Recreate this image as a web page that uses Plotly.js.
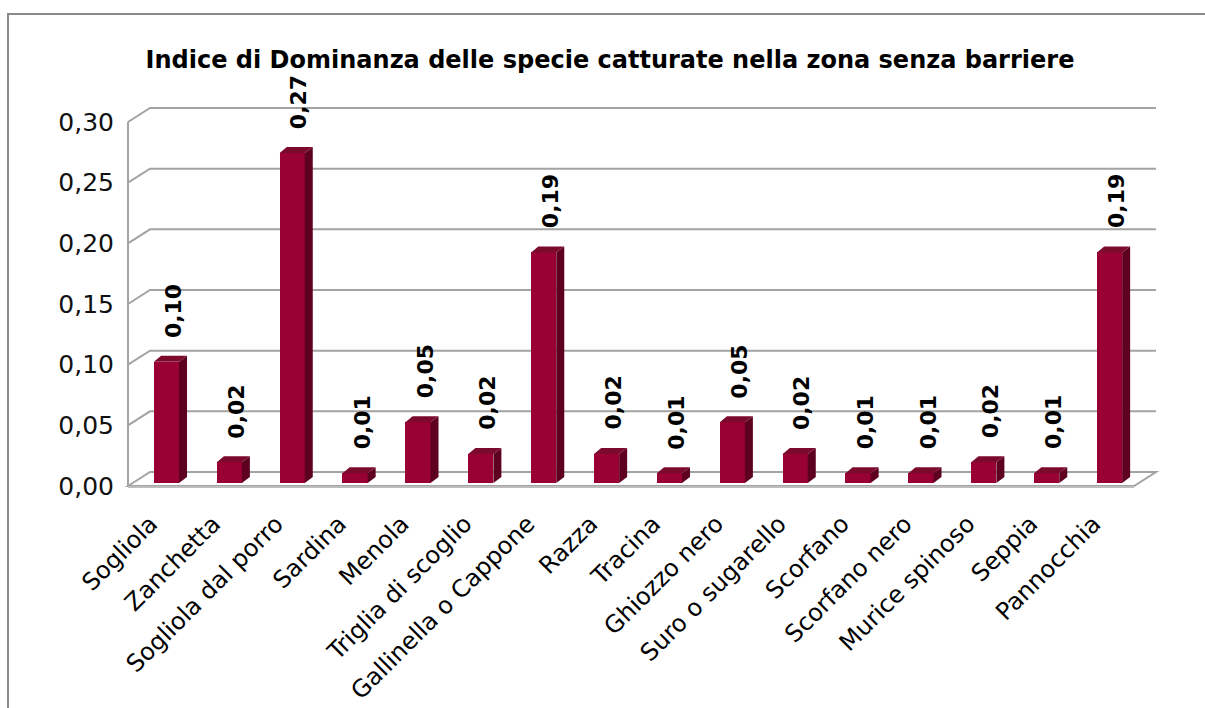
<!DOCTYPE html>
<html><head><meta charset="utf-8">
<script src="https://cdn.plot.ly/plotly-3.0.1.min.js"></script>
<style>body{margin:0;background:#fff}#chart{width:1205px;height:708px}</style>
</head><body><div id="chart"></div>
<script>
// ---- data ----
const categories = ["Sogliola","Zanchetta","Sogliola dal porro","Sardina","Menola","Triglia di scoglio","Gallinella o Cappone","Razza","Tracina","Ghiozzo nero","Suro o sugarello","Scorfano","Scorfano nero","Murice spinoso","Seppia","Pannocchia"];
const values = [0.100,0.017,0.272,0.008,0.050,0.024,0.190,0.024,0.008,0.050,0.024,0.008,0.008,0.017,0.008,0.190];
const yTickVals = [0,0.05,0.10,0.15,0.20,0.25,0.30];
const yTickText = ["0,00","0,05","0,10","0,15","0,20","0,25","0,30"];
const titleText = "Indice di Dominanza delle specie catturate nella zona senza barriere";

// ---- geometry (pixels) ----
const W=1205, H=708;
const PL=120, PR=1170, PT=92, PB=500;          // plot area
const X0=135, CW=62.875;                        // left edge of category band, px per category
const Y0=483, S=364/0.30;                        // zero line on bar plane, px per unit
const xr=[-0.5-(X0-PL)/CW, -0.5+(PR-X0)/CW];
const yr=[-(PB-Y0)/S, (Y0-PT)/S];
const px=d=>d/CW, py=d=>d/S;
const FRONT={dx:-7,dy:-3}, BACK={dx:15,dy:11};
const BW=0.4, BDX=8, BDY=6;
const n=categories.length;
const xmin=-0.5, xmax=n-0.5, ymax=yTickVals[yTickVals.length-1];

// ---- walls / grid ----
const gridColor='#a3a3a3';
const shapes=[];
yTickVals.forEach(v=>{
  if(v===0) return;
  shapes.push({type:'path',xref:'x',yref:'y',layer:'below',
    path:`M${xmin+px(FRONT.dx)},${v+py(FRONT.dy)} L${xmin+px(BACK.dx)},${v+py(BACK.dy)} L${xmax+px(BACK.dx)},${v+py(BACK.dy)}`,
    line:{color:gridColor,width:2}});
});
// floor
shapes.push({type:'path',xref:'x',yref:'y',layer:'below',
  path:`M${xmin+px(FRONT.dx)},${py(FRONT.dy)} L${xmin+px(BACK.dx)},${py(BACK.dy)} L${xmax+px(BACK.dx)},${py(BACK.dy)} L${xmax+px(FRONT.dx)},${py(FRONT.dy)} Z`,
  line:{color:gridColor,width:2}});
shapes.push({type:'line',xref:'x',yref:'y',layer:'below',
  x0:xmin+px(FRONT.dx),x1:xmax+px(FRONT.dx),y0:py(FRONT.dy-1),y1:py(FRONT.dy-1),
  line:{color:'#bdbdbd',width:2}});
// vertical axis line (front-left)
shapes.push({type:'line',xref:'x',yref:'y',layer:'below',
  x0:xmin+px(FRONT.dx),x1:xmin+px(FRONT.dx),y0:py(FRONT.dy),y1:ymax+py(FRONT.dy),
  line:{color:gridColor,width:2}});
// outer chart border (top and left)
const pxX=p=>(p-PL)/(PR-PL), pxY=p=>(PB-p)/(PB-PT);
shapes.push({type:'path',xref:'paper',yref:'paper',
  path:`M${pxX(8)},${pxY(H+5)} L${pxX(8)},${pxY(14)} L${pxX(W+5)},${pxY(14)}`,
  line:{color:'#8a8a8a',width:2}});

// ---- 3D faces built from values ----
const sideX=[], sideY=[], topX=[], topY=[];
values.forEach((v,i)=>{
  const l=i-BW/2, r=i+BW/2, dx=px(BDX), dy=py(BDY);
  sideX.push(r, r+dx, r+dx, r, r, null);
  sideY.push(0, dy, v+dy, v, 0, null);
  topX.push(l, r, r+dx, l+dx*0.9, l, null);
  topY.push(v, v, v+dy, v+dy, v, null);
});

const traces=[
  {type:'bar',x:values.map((_,i)=>i),y:values,width:BW,
   marker:{color:'#990033',line:{width:0}},hoverinfo:'skip'},
  {type:'scatter',mode:'lines',x:sideX,y:sideY,fill:'toself',fillcolor:'#5e0020',
   line:{width:0,color:'rgba(0,0,0,0)'},hoverinfo:'skip'},
  {type:'scatter',mode:'lines',x:topX,y:topY,fill:'toself',fillcolor:'#7c0a2c',
   line:{width:0,color:'rgba(0,0,0,0)'},hoverinfo:'skip'}
];

const annotations=values.map((v,i)=>({
  x:i,y:v,xref:'x',yref:'y',xshift:7,yshift:22,yanchor:'bottom',xanchor:'center',
  textangle:-90,showarrow:false,text:v.toFixed(2).replace('.',','),
  font:{family:'DejaVu Sans',size:22,color:'#000',weight:'bold'}
}));

const layout={
  width:W,height:H,
  margin:{l:PL,r:W-PR,t:PT,b:H-PB,pad:0},
  paper_bgcolor:'#fff',plot_bgcolor:'rgba(0,0,0,0)',
  showlegend:false,
  title:{text:titleText,x:610/W,xref:'container',xanchor:'center',
         y:1-60/H,yref:'container',yanchor:'middle',
         font:{family:'DejaVu Sans',size:24,color:'#000',weight:'bold'}},
  xaxis:{range:xr,tickmode:'array',tickvals:categories.map((_,i)=>i),ticktext:categories,
         tickangle:-45,showgrid:false,zeroline:false,showline:false,ticks:'',
         ticklabelshift:-16,ticklabelstandoff:4,
         tickfont:{family:'DejaVu Sans',size:24,color:'#000'},fixedrange:true},
  yaxis:{range:yr,tickmode:'array',tickvals:yTickVals.map(v=>v+py(FRONT.dy)),ticktext:yTickText,
         showgrid:false,zeroline:false,showline:false,ticks:'',ticklabelstandoff:5,
         tickfont:{family:'DejaVu Sans',size:25,color:'#111'},fixedrange:true},
  shapes:shapes,annotations:annotations,bargap:0
};
Plotly.newPlot('chart',traces,layout,{displayModeBar:false,staticPlot:true});
</script></body></html>
